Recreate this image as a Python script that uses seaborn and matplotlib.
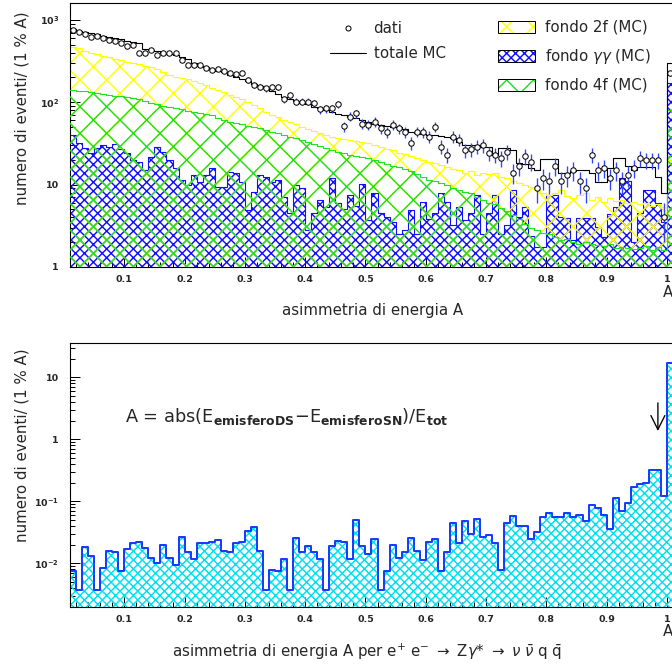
import numpy as np
import matplotlib
matplotlib.use("Agg")
import matplotlib.pyplot as plt
import seaborn as sns
from matplotlib.lines import Line2D
from matplotlib.patches import Patch
from matplotlib.ticker import FixedLocator, FixedFormatter, MultipleLocator, LogLocator, NullFormatter

# ---------------- data ----------------
# lower edges of the 1 % bins of the energy asymmetry A
bin_low = np.round(np.arange(0.01, 1.0001, 0.01), 2)          # 0.01 ... 1.00
bin_low_sig = np.round(np.arange(0.00, 1.0001, 0.01), 2)      # 0.00 ... 1.00

fondo_2f = [470, 450, 420, 400, 385, 365, 350, 335, 325, 310,
            300, 290, 275, 265, 250, 230, 215, 205, 198, 190,
            180, 172, 160, 150, 140, 132, 124, 115, 108, 100,
            92, 85, 76, 70, 66, 60, 57, 54, 50, 47,
            45, 42, 40, 38, 37, 36, 35, 34, 33, 32,
            30, 29, 27, 26, 24, 23.5, 22, 21, 20, 19,
            18.5, 17.5, 16.5, 15.5, 15, 14, 14.5, 13, 14, 13.5,
            13.8, 12.5, 12, 11, 10.5, 10, 9.3, 8.5, 8.0, 7.5,
            7.9, 8.5, 7.2, 6.8, 7.5, 7.8, 6.5, 7.0, 6.2, 6.8,
            6.3, 6.5, 6.0, 6.2, 5.8, 6.0, 5.5, 5.8, 5.3, 20]

fondo_4f = [140, 138, 135, 133, 130, 126, 123, 120, 118, 115,
            112, 108, 103, 98, 95, 91, 88, 85, 82, 79,
            76, 74, 72, 70, 65, 61, 58, 56, 54, 52,
            50, 48, 46, 44, 42, 40, 38, 37, 35, 33,
            31, 29.5, 28, 26, 25, 24, 23, 22.5, 21.6, 21,
            20, 19, 18, 17, 16.3, 15.5, 14.5, 13.5, 12.5, 11.5,
            11, 10.5, 9.8, 9.2, 8.7, 8.2, 7.8, 7.0, 6.5, 6.0,
            5.8, 5.2, 4.8, 4.3, 3.8, 3.3, 3.0, 2.8, 2.6, 2.5,
            2.3, 2.1, 2.2, 2.0, 1.9, 2.0, 1.9, 1.85, 1.8, 1.9,
            1.7, 1.75, 1.7, 1.65, 1.7, 1.8, 1.6, 1.75, 1.6, 80]

fondo_gg = [40, 31.7, 27.5, 23.9, 27.5, 30.3, 28.9, 31, 26.8, 23.9,
            19.9, 18.9, 15, 21.8, 28.9, 25.1, 19.9, 15.7, 11.3, 9.9,
            13, 10.8, 13, 15.7, 9.4, 9.4, 14.3, 13.7, 10.8, 4.9,
            8.2, 13, 12.4, 10.8, 11.3, 7.1, 4.5, 9.9, 9.0, 2.8,
            4.5, 6.5, 5.4, 11.9, 5.9, 5.1, 7.4, 5.5, 10.3, 3.7,
            7.8, 4.5, 4.1, 3.5, 2.5, 2.8, 4.9, 2.5, 6.2, 3.8,
            4.5, 7.8, 6.2, 3.2, 5.4, 3.7, 4.5, 7.4, 2.5, 4.5,
            7.4, 2.5, 3.2, 8.6, 4.1, 5.4, 2.4, 1.75, 1.75, 7.4,
            7.4, 4.1, 3.9, 2.1, 3.9, 3.9, 3.9, 3.1, 2.3, 4.4,
            5.4, 12, 11, 2.0, 4.5, 8.6, 8.6, 6.0, 3.5, 170]

totale_mc = [770, 740, 710, 690, 670, 640, 620, 600, 580, 560,
             545, 520, 440, 430, 420, 400, 390, 370, 350, 330,
             300, 275, 265, 255, 240, 230, 215, 200, 190, 180,
             165, 158, 150, 138, 125, 115, 110, 104, 98, 94,
             88, 84, 80, 77, 72, 70, 67, 64, 61, 58,
             55, 53, 51, 50, 50, 47, 44, 42, 41, 40,
             40, 39, 38, 37, 33, 30, 30, 30, 29, 29,
             23, 28, 27.8, 26, 18.3, 18, 16, 15, 20.4, 20.4,
             20.4, 13.8, 14, 14.5, 15, 15, 14, 10.7, 10.7, 15.9,
             21, 21, 17, 15, 16.3, 16.3, 16.3, 12.3, 7.9, 300]

dati = [757, 703, 670, 617, 629, 600, 572, 546, 521, 475,
        497, 394, 401, 432, 376, 394, 401, 394, 327, 284,
        279, 284, 259, 247, 252, 242, 229, 221, 229, 186,
        162, 155, 147, 152, 152, 109, 122, 102, 102, 102,
        97, 82, 84, 84, 95, 51, 67, 73, 55, 53,
        58, 48, 43, 53, 48, 43, 32, 44, 43, 38,
        50, 29, 23, 38, 35, 26, 27, 29, 30, 24,
        23, 21, 25, 14, 17, 22, 19, 9, 12, 11,
        17, 11, 13, 15, 11, 9, 23, 15, 16, 12,
        15, 11, 13, 16, 21, 20, 20, 20, 4, 225]

segnale = [1.0,
           0.0076, 0.0037, 0.0181, 0.0133, 0.0037, 0.0083, 0.0156, 0.0152, 0.0076, 0.0168,
           0.0213, 0.0218, 0.0179, 0.0122, 0.0100, 0.0195, 0.0120, 0.0093, 0.0269, 0.0152,
           0.0117, 0.0213, 0.0213, 0.0221, 0.0241, 0.0158, 0.0152, 0.0213, 0.0221, 0.0328,
           0.038, 0.0156, 0.0037, 0.0077, 0.0074, 0.0115, 0.0037, 0.0256, 0.0152, 0.0188,
           0.0152, 0.0116, 0.0037, 0.0188, 0.0229, 0.0218, 0.0116, 0.050, 0.0190, 0.0141,
           0.0247, 0.0037, 0.0076, 0.020, 0.0120, 0.0152, 0.0256, 0.0156, 0.0113, 0.0221,
           0.025, 0.0076, 0.0152, 0.0441, 0.0216, 0.0488, 0.0294, 0.0519, 0.0269, 0.0286,
           0.0216, 0.0079, 0.0441, 0.058, 0.040, 0.040, 0.025, 0.0316, 0.0566, 0.064,
           0.0552, 0.0566, 0.0656, 0.056, 0.0594, 0.0488, 0.0873, 0.077, 0.060, 0.0355,
           0.113, 0.070, 0.093, 0.173, 0.190, 0.198, 0.32, 0.32, 0.122, 17.0]

taglio_A = 0.985          # position of the cut arrow
x_ticks = [0.1, 0.2, 0.3, 0.4, 0.5, 0.6, 0.7, 0.8, 0.9, 1.0]
x_ticklabels = ["0.1", "0.2", "0.3", "0.4", "0.5", "0.6", "0.7", "0.8", "0.9", "1"]
y1_ticks = [1, 10, 100, 1000]
y1_ticklabels = ["1", "10", r"$\mathbf{10^{2}}$", r"$\mathbf{10^{3}}$"]
y2_ticks = [0.01, 0.1, 1, 10]
y2_ticklabels = [r"$\mathbf{10^{-2}}$", r"$\mathbf{10^{-1}}$", "1", "10"]

# ---------------- style ----------------
sns.set_theme(style="ticks")
plt.rcParams["font.family"] = ["DejaVu Sans"]
plt.rcParams["hatch.linewidth"] = 1.3
plt.rcParams["axes.edgecolor"] = "black"
plt.rcParams["axes.linewidth"] = 1.0

W, H, DPI = 672, 665, 80
fig = plt.figure(figsize=(W / DPI, H / DPI), dpi=DPI)
fig.patch.set_facecolor("white")


def px(x, y):
    return x / W, 1 - y / H


ax1 = fig.add_axes([70 / W, 1 - 267 / H, 609 / W, 264 / H])
ax2 = fig.add_axes([70 / W, 1 - 607 / H, 609 / W, 264 / H])
for ax in (ax1, ax2):
    ax.set_yscale("log")

YELLOW, GREEN, BLUE = "#ffff00", "#22e022", "#1010ff"
CYAN, SIGEDGE = "#00e0f0", "#1a3cff"


def hist(ax, lows, vals, hatch_color, hatch, edge_color, lw, z):
    lows = np.asarray(lows, dtype=float)
    edges = list(np.append(lows, lows[-1] + 0.01))
    centers = lows + 0.005
    sns.histplot(x=centers, weights=vals, bins=edges, element="step", fill=True,
                 color=hatch_color, facecolor="none", edgecolor=hatch_color,
                 hatch=hatch, linewidth=0, alpha=1, ax=ax, zorder=z)
    sns.histplot(x=centers, weights=vals, bins=edges, element="step", fill=False,
                 color=edge_color, linewidth=lw, ax=ax, zorder=z + 0.5)


# ---------------- top panel ----------------
hist(ax1, bin_low, fondo_gg, BLUE, "xxx", BLUE, 1.0, 1)
hist(ax1, bin_low, fondo_2f, YELLOW, "x", YELLOW, 1.0, 2)
hist(ax1, bin_low, fondo_4f, GREEN, "x", GREEN, 1.0, 3)
sns.histplot(x=bin_low + 0.005, weights=totale_mc, bins=list(np.append(bin_low, 1.01)),
             element="step", fill=False, color="black", linewidth=1.0, ax=ax1, zorder=6)
centers = bin_low + 0.005
ax1.errorbar(centers, dati, yerr=np.sqrt(dati), fmt="none", ecolor="#3344ff",
             elinewidth=1.2, capsize=0, zorder=7)
sns.scatterplot(x=centers, y=dati, ax=ax1, marker="o", s=24, color="white",
                edgecolor="black", linewidth=0.9, zorder=8)

# ---------------- bottom panel ----------------
hist(ax2, bin_low_sig, segnale, CYAN, "xxx", SIGEDGE, 1.8, 1)
ax2.annotate("", xy=(taglio_A, 1.25), xytext=(taglio_A, 4.2),
             arrowprops=dict(arrowstyle="->,head_length=0.7,head_width=0.35",
                             color="black", lw=1.2, mutation_scale=18))

# ---------------- axes cosmetics ----------------
for ax, yt, ytl, ylim in ((ax1, y1_ticks, y1_ticklabels, (1, 1600)),
                          (ax2, y2_ticks, y2_ticklabels, (0.00197, 35.7))):
    ax.set_xlim(0.01, 1.02)
    ax.set_ylim(*ylim)
    ax.set_xlabel("")
    ax.set_ylabel("")
    ax.xaxis.set_major_locator(FixedLocator(x_ticks))
    ax.xaxis.set_major_formatter(FixedFormatter(x_ticklabels))
    ax.xaxis.set_minor_locator(MultipleLocator(0.02))
    ax.yaxis.set_major_locator(FixedLocator(yt))
    ax.yaxis.set_major_formatter(FixedFormatter(ytl))
    ax.yaxis.set_minor_locator(LogLocator(base=10, subs=np.arange(2, 10)))
    ax.yaxis.set_minor_formatter(NullFormatter())
    ax.tick_params(which="both", direction="in", top=False, right=False,
                   color="black", width=0.9)
    ax.tick_params(which="major", length=9)
    ax.tick_params(which="minor", length=4.5)
    ax.tick_params(axis="x", which="major", pad=7, labelsize=8.5)
    ax.tick_params(axis="y", which="major", pad=10, labelsize=8.5)
    for lab in ax.get_xticklabels() + ax.get_yticklabels():
        lab.set_fontweight("bold")
    for s in ax.spines.values():
        s.set_color("black")
        s.set_linewidth(1.0)
    ax.set_facecolor("white")

# ---------------- texts ----------------
FS = 13.5
fig.text(*px(22, 108), "numero di eventi/ (1 % A)", rotation=90, ha="center", va="center", fontsize=FS)
fig.text(*px(22, 445), "numero di eventi/ (1 % A)", rotation=90, ha="center", va="center", fontsize=FS)
fig.text(*px(373, 311), "asimmetria di energia A", ha="center", va="center", fontsize=FS)
fig.text(*px(172, 652),
         r"asimmetria di energia A per e$^{+}$ e$^{-}$ $\rightarrow$ Z$\gamma$* $\rightarrow$ $\nu$ $\bar{\nu}$ q $\bar{\mathrm{q}}$",
         ha="left", va="center", fontsize=FS)
fig.text(*px(663, 292), "A", ha="left", va="center", fontsize=FS)
fig.text(*px(663, 632), "A", ha="left", va="center", fontsize=FS)
fig.text(*px(125, 422),
         r"A = abs(E$_{\mathbf{emisferoDS}}$$-$E$_{\mathbf{emisferoSN}}$)/E$_{\mathbf{tot}}$",
         ha="left", va="baseline", fontsize=16)

# ---------------- legends ----------------
h_dati = Line2D([], [], linestyle="none", marker="o", markersize=4.5,
                markerfacecolor="white", markeredgecolor="black", markeredgewidth=0.9)
h_tot = Line2D([], [], color="black", lw=1.0)
leg1 = ax1.legend([h_dati, h_tot], ["dati", "totale MC"], loc="upper left",
                  bbox_to_anchor=px(330, 21), bbox_transform=fig.transFigure,
                  frameon=False, fontsize=FS, borderpad=0, borderaxespad=0,
                  handlelength=2.4, handletextpad=0.5, labelspacing=0.7)
ax1.add_artist(leg1)


def box(color, hatch):
    return (Patch(facecolor="white", edgecolor=color, hatch=hatch, linewidth=0),
            Patch(facecolor="none", edgecolor="black", linewidth=0.9))


leg2 = ax1.legend([box(YELLOW, "x"), box(BLUE, "xxx"), box(GREEN, "x")],
                  ["fondo 2f (MC)", r"fondo $\gamma\gamma$ (MC)", "fondo 4f (MC)"],
                  loc="upper left", bbox_to_anchor=px(498, 20), bbox_transform=fig.transFigure,
                  frameon=False, fontsize=FS, borderpad=0, borderaxespad=0,
                  handlelength=2.47, handleheight=0.8, handletextpad=0.65, labelspacing=0.8)

fig.savefig("out.png", dpi=DPI, facecolor="white")
